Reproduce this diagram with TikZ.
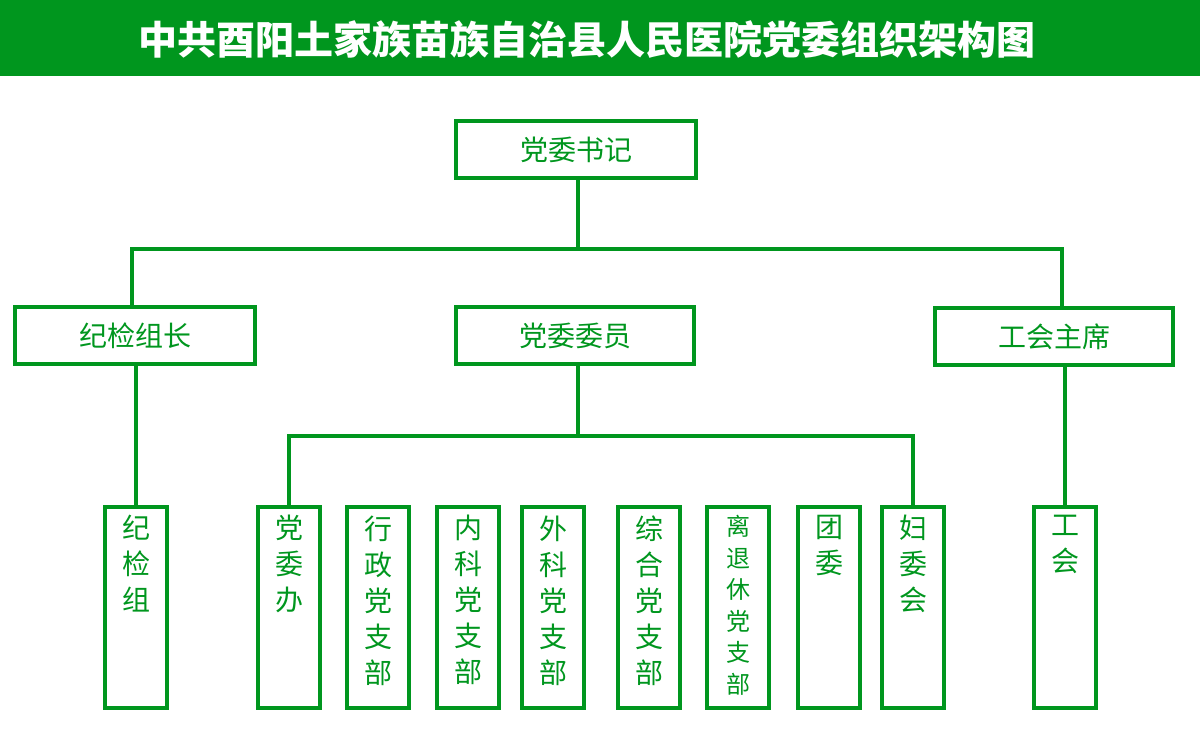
\documentclass[tikz,border=0pt]{standalone}
\usepackage{fontspec}
\setmainfont{Noto Sans CJK SC}
\definecolor{dgreen}{RGB}{0,150,30}
\tikzset{
  box/.style={draw=dgreen, line width=3.5pt, minimum width=#1, minimum height=57pt, inner sep=0pt,
    text=dgreen, font=\fontsize{28}{28}\selectfont},
  box/.default=240pt,
  vbox/.style={draw=dgreen, line width=3.5pt, minimum width=62pt, minimum height=201pt, inner sep=0pt},
  vtext/.style={text=dgreen, align=center, anchor=north, inner sep=0pt, font=\fontsize{28}{36}\selectfont},
  link/.style={draw=dgreen, line width=3.5pt}
}
\begin{document}
\begin{tikzpicture}[x=1pt,y=-1pt]
\useasboundingbox (0,0) rectangle (1200,752);
\fill[dgreen] (0,0) rectangle (1200,76);
\node[text=white, font=\bfseries\fontsize{39}{39}\selectfont] (title) at (587,40) {中共酉阳土家族苗族自治县人民医院党委组织架构图};
\node[box] (shuji) at (576,149.5) {党委书记};
\node[box] (jijian) at (135,335.5) {纪检组长};
\node[box=238pt] (weiyuan) at (575,335.5) {党委委员};
\node[box=238pt] (gonghui) at (1054,336.5) {工会主席};
\coordinate (top) at (578,249);
\draw[link] (shuji.south -| top) -- (top);
\draw[link] (132,307) |- (top) -| (1062,307);
% bottom row
\foreach \n/\x/\t in {jj/136/纪\\检\\组, dwb/289/党\\委\\办, xz/378/行\\政\\党\\支\\部, nk/468/内\\科\\党\\支\\部,
  wk/553/外\\科\\党\\支\\部, zh/649/综\\合\\党\\支\\部, tw/829/团\\委, fw/913/妇\\委\\会, gh/1065/工\\会}{
  \node[vbox] (\n) at (\x,607.5) {};
  \node[vtext] at ([yshift=-10pt]\n.north) {\t};
}
\node[vbox] (lt) at (738,607.5) {};
\node[vtext, font=\fontsize{24}{31.5}\selectfont] at ([yshift=-10pt]lt.north) {离\\退\\休\\党\\支\\部};
\draw[link] (jijian.south -| jj) -- (jj.north);
\draw[link] (gonghui.south -| gh) -- (gh.north);
\coordinate (mid) at (578,436);
\draw[link] (weiyuan.south -| mid) -- (mid);
\draw[link] (dwb.north) |- (mid) -| (fw.north);
\end{tikzpicture}
\end{document}
